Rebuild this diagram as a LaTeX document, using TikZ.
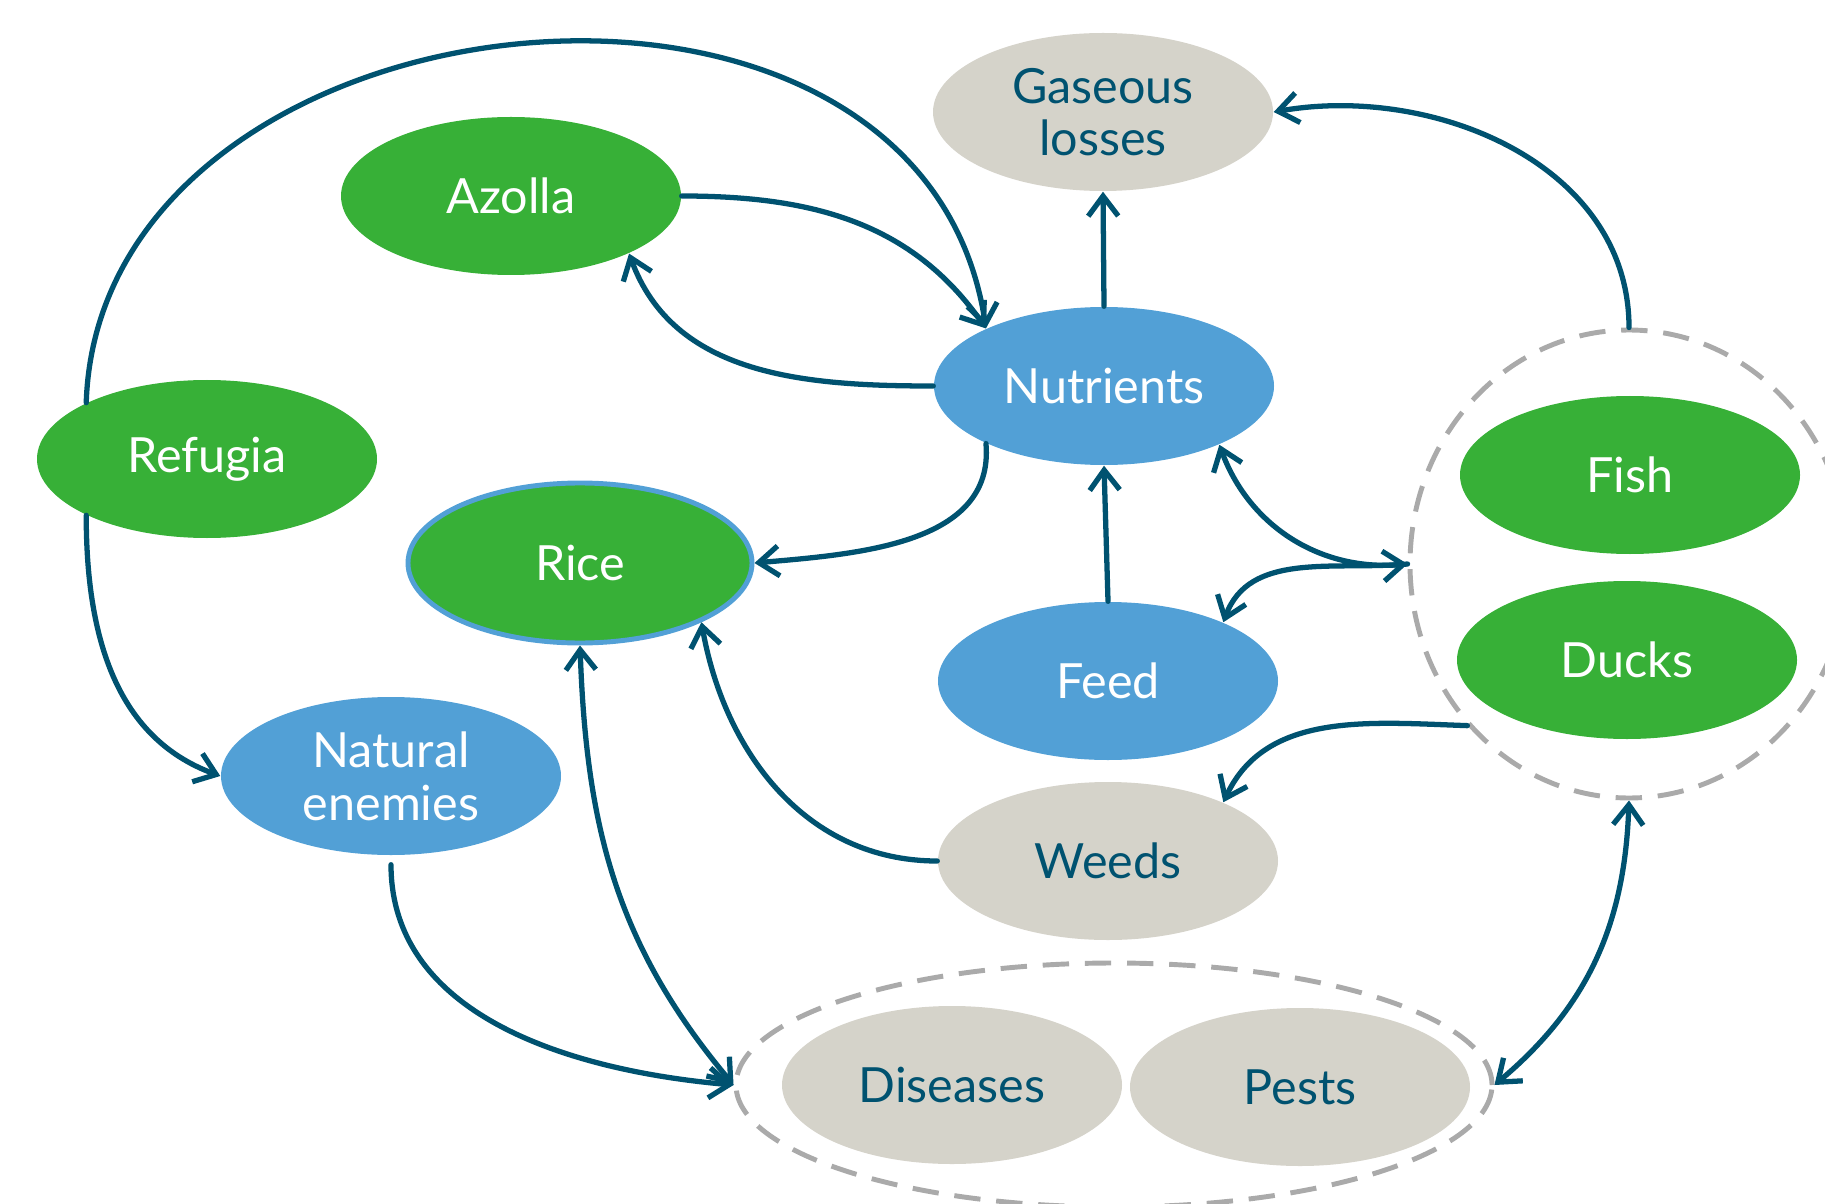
\documentclass[tikz,border=0pt]{standalone}
\usepackage{fontspec}
\setmainfont{Lato}
\usetikzlibrary{shapes.geometric, arrows.meta, positioning}
\definecolor{leafgreen}{RGB}{55, 176, 55}
\definecolor{waterblue}{RGB}{82, 160, 214}
\definecolor{mudgrey}{RGB}{213, 211, 202}
\definecolor{darkteal}{RGB}{0, 82, 112}
\definecolor{dashgrey}{RGB}{170, 170, 170}

\begin{document}
\begin{tikzpicture}[
    >={Straight Barb[length=2mm, width=3mm]},
    gbox/.style={ellipse, fill=leafgreen, minimum width=3.4cm, minimum height=1.58cm,
        inner sep=0pt, text=white, align=center, font=\fontsize{13.8}{15}\selectfont},
    bbox/.style={gbox, fill=waterblue},
    sbox/.style={gbox, fill=mudgrey, text=darkteal},
    ring/.style={ellipse, draw=dashgrey, line width=1.4pt, dash pattern=on 7.5pt off 4.5pt, inner sep=0pt},
    link/.style={draw=darkteal, line width=1.5pt, line cap=round, ->},
    both/.style={link, <->}
]
    \useasboundingbox (0,0) rectangle (18.25,12.03);
    \clip (0,0) rectangle (18.25,12.03);

    % dashed groups
    \node[ring, minimum width=4.38cm, minimum height=4.68cm] (animals) at (16.29,6.39) {};
    \node[ring, minimum width=7.56cm, minimum height=2.44cm] (harm) at (11.14,1.18) {};

    \node[sbox] (gas) at (11.03,10.91) {Gaseous\\losses};
    \node[gbox] (azolla) at (5.11,10.07) {Azolla};
    \node[bbox] (nutrients) at (11.04,8.17) {Nutrients};
    \node[gbox] (refugia) at (2.07,7.44) {Refugia};
    \node[gbox, draw=waterblue, line width=1.4pt, minimum width=3.44cm, minimum height=1.6cm] (rice) at (5.80,6.40) {Rice};
    \node[gbox] (fish) at (16.30,7.28) {Fish};
    \node[gbox] (ducks) at (16.27,5.43) {Ducks};
    \node[bbox] (feed) at (11.08,5.22) {Feed};
    \node[bbox] (enemies) at (3.91,4.27) {Natural\\enemies};
    \node[sbox] (weeds) at (11.08,3.42) {Weeds};
    \node[sbox] (diseases) at (9.52,1.18) {Diseases};
    \node[sbox] (pests) at (13.00,1.16) {Pests};

    % connectors
    \draw[link] (refugia.155) .. controls (1.0,12.2) and (9.2,13.1) .. (nutrients.154);
    \draw[link] (azolla.east) to[out=0, in=125] (nutrients.154);
    \draw[link] (nutrients.west) to[out=180, in=-70] (azolla.-26);
    \draw[link] (nutrients.north) -- (gas.south);
    \draw[link] (animals.north) to[out=90, in=10] (gas.east);
    \draw[link] (nutrients.206) to[out=-85, in=5] (rice.east);
    \draw[link] (feed.north) -- (nutrients.south);
    \draw[both] (nutrients.-27) to[out=-70, in=185] (animals.west);
    \draw[link] (animals.west) to[out=185, in=70] (feed.27);
    \draw[link] (animals.225) to[out=178, in=65] (weeds.27);
    \draw[link] (weeds.west) to[out=180, in=-80] (rice.-26);
    \draw[both] (rice.south) to[out=-88, in=130] (harm.west);
    \draw[link, shorten <=0.9mm] (enemies.south) to[out=-90, in=175] (harm.west);
    \draw[link] (refugia.205) to[out=-90, in=160] (enemies.west);
    \draw[both] (animals.south) to[out=-92, in=40] (harm.east);
\end{tikzpicture}
\end{document}
